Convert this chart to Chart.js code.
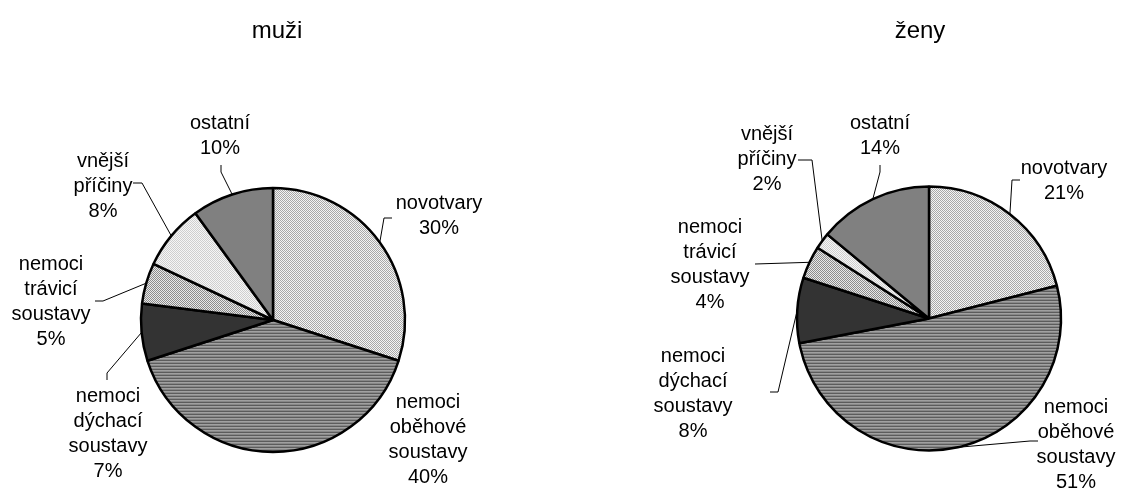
<!DOCTYPE html>
<html>
<head>
<meta charset="utf-8">
<script src="https://cdn.jsdelivr.net/npm/chart.js@4.4.0/dist/chart.umd.min.js"></script>
<style>
  html, body { margin: 0; padding: 0; background: #fff; overflow: hidden; }
  #wrap { position: relative; width: 1125px; height: 488px; }
  #wrap canvas { position: absolute; left: 0; top: 0; }
</style>
</head>
<body>
<div id="wrap">
  <canvas id="menChart" width="1125" height="488"></canvas>
  <canvas id="womenChart" width="1125" height="488"></canvas>
</div>
<script>
// Data
const categories = [
    'novotvary',
    'nemoci oběhové soustavy',
    'nemoci dýchací soustavy',
    'nemoci trávicí soustavy',
    'vnější příčiny',
    'ostatní'
];
const menValues = [30, 40, 7, 5, 8, 10];
const womenValues = [21, 51, 8, 4, 2, 14];
const chartTitles = ['muži', 'ženy'];

const FONT = '"Liberation Sans", Arial, sans-serif';

// Grey fill patterns, like the old b/w office charts
function makePattern(w, h, pixels) {
    const c = document.createElement('canvas');
    c.width = w; c.height = h;
    const cx = c.getContext('2d');
    pixels.forEach((col, i) => {
        cx.fillStyle = col;
        cx.fillRect(i % w, Math.floor(i / w), 1, 1);
    });
    return cx.createPattern(c, 'repeat');
}

function fills() {
    return [
        makePattern(2, 2, ['#a8a8a8', '#f4f4f4', '#f4f4f4', '#a8a8a8']),   // novotvary
        makePattern(1, 3, ['#5c5c5c', '#a0a0a0', '#888888']),              // oběhové
        '#333333',                                                           // dýchací
        makePattern(2, 2, ['#8c8c8c', '#e8e8e8', '#e8e8e8', '#8c8c8c']),   // trávicí
        makePattern(2, 2, ['#cfcfcf', '#f6f6f6', '#f6f6f6', '#cfcfcf']),   // vnější
        '#808080'                                                            // ostatní
    ];
}

// Label placement (text centre, first line) and leader elbows, per chart
const menLabels = [
    { x: 439, y: 203, leader: [[392, 218], [384, 218]] },
    { x: 428, y: 402, leader: null },
    { x: 108, y: 396, leader: [[107, 380], [107, 373]] },
    { x: 51,  y: 264, leader: [[95, 301], [103, 301]] },
    { x: 103, y: 161, leader: [[133, 183], [142, 183]] },
    { x: 220, y: 123, leader: [[221, 165], [221, 172]] }
];
const womenLabels = [
    { x: 1064, y: 168, leader: [[1020, 180], [1012, 180]] },
    { x: 1076, y: 407, leader: [[1038, 441], [1030, 441]] },
    { x: 693,  y: 356, leader: [[770, 392], [778, 392]] },
    { x: 710,  y: 227, leader: [[755, 264]] },
    { x: 767,  y: 134, leader: [[798, 160], [812, 160]] },
    { x: 880,  y: 123, leader: [[880, 165], [880, 172]] }
];

const LINE_H = 25;

const calloutPlugin = {
    id: 'callouts',
    afterDatasetsDraw(chart, args, opts) {
        const ctx = chart.ctx;
        const meta = chart.getDatasetMeta(0);
        const values = chart.data.datasets[0].data;
        const total = values.reduce((a, b) => a + b, 0);
        ctx.save();
        ctx.fillStyle = '#000';
        ctx.strokeStyle = '#000';
        ctx.lineWidth = 1;
        ctx.textAlign = 'center';
        ctx.textBaseline = 'middle';

        // title
        ctx.font = '24px ' + FONT;
        ctx.fillText(opts.title, opts.titleX, opts.titleY);

        ctx.font = '20px ' + FONT;
        meta.data.forEach((arc, i) => {
            const lab = opts.labels[i];
            const lines = chart.data.labels[i].split(' ');
            lines.push(Math.round(values[i] / total * 100) + '%');
            lines.forEach((t, k) => ctx.fillText(t, lab.x, lab.y + k * LINE_H));

            if (lab.leader) {
                // leader ends on the outer edge, at the middle of the slice
                const p = arc.getProps(['x', 'y', 'startAngle', 'endAngle', 'outerRadius'], true);
                const mid = (p.startAngle + p.endAngle) / 2;
                const ex = p.x + Math.cos(mid) * p.outerRadius;
                const ey = p.y + Math.sin(mid) * p.outerRadius;
                ctx.beginPath();
                ctx.moveTo(lab.leader[0][0], lab.leader[0][1]);
                for (let k = 1; k < lab.leader.length; k++) {
                    ctx.lineTo(lab.leader[k][0], lab.leader[k][1]);
                }
                ctx.lineTo(ex, ey);
                ctx.stroke();
            }
        });
        ctx.restore();
    }
};

function createPie(canvasId, values, cx, cy, r, title, titleX, labels) {
    const W = 1125, H = 488;
    return new Chart(document.getElementById(canvasId), {
        type: 'pie',
        data: {
            labels: categories,
            datasets: [{
                data: values,
                backgroundColor: fills(),
                borderColor: '#000',
                borderWidth: 2.5,
                hoverOffset: 0
            }]
        },
        options: {
            responsive: false,
            animation: false,
            events: [],
            radius: r,
            layout: {
                padding: { left: cx - r, right: W - cx - r, top: cy - r, bottom: H - cy - r }
            },
            plugins: {
                legend: { display: false },
                tooltip: { enabled: false },
                callouts: { title: title, titleX: titleX, titleY: 31, labels: labels }
            }
        },
        plugins: [calloutPlugin]
    });
}

createPie('menChart', menValues, 273, 320, 132, chartTitles[0], 277, menLabels);
createPie('womenChart', womenValues, 929, 318.5, 132, chartTitles[1], 920, womenLabels);
</script>
</body>
</html>
